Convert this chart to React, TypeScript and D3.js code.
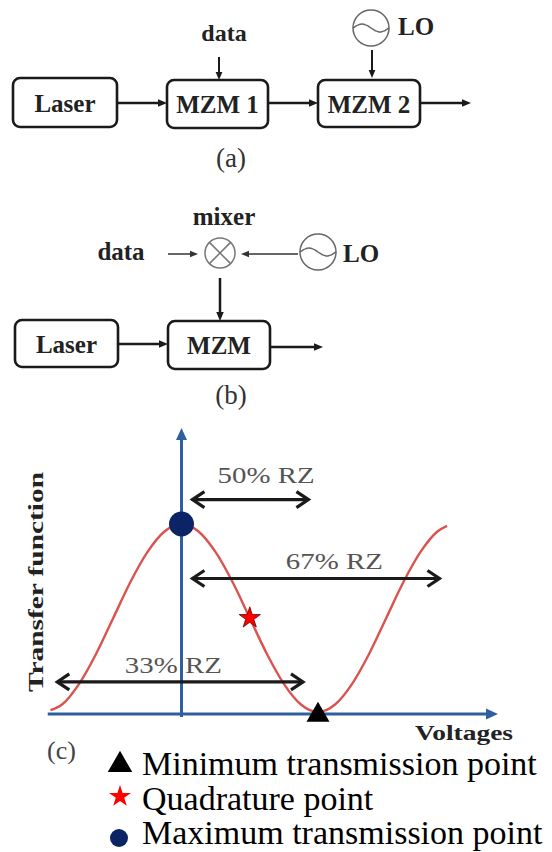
import React from 'react';
import * as d3 from 'd3';

const FONT = "'Liberation Serif', 'Times New Roman', serif";

// block chains of panels (a) and (b)
const CHAIN_A = ['Laser', 'MZM 1', 'MZM 2'];
const CHAIN_B = ['Laser', 'MZM'];

// panel (c): transfer function (voltage in Vpi units, normalised transmission)
const CURVE_V = [-0.96, -0.875, -0.75, -0.625, -0.5, -0.375, -0.25, -0.125, 0, 0.125, 0.25, 0.375, 0.5,
  0.625, 0.75, 0.875, 1, 1.125, 1.25, 1.375, 1.5, 1.625, 1.75, 1.875, 1.945];
const CURVE_T = [0.01, 0.04, 0.15, 0.31, 0.5, 0.69, 0.85, 0.96, 1, 0.96, 0.85, 0.69, 0.5,
  0.31, 0.15, 0.04, 0, 0.04, 0.15, 0.31, 0.5, 0.69, 0.85, 0.96, 0.99];

// RZ drive swings (double arrows)
const RZ_LABELS = ['50% RZ', '67% RZ', '33% RZ'];
const RZ_FROM = [0.08, 0.08, -0.91];
const RZ_TO = [0.93, 1.89, 0.89];
const RZ_LEVEL = [1.13, 0.71, 0.16];
const RZ_TEXT_V = [0.62, 1.12, -0.06];
const RZ_TEXT_T = [1.22, 0.76, 0.21];

// bias points
const BIAS_LABELS = ['Minimum transmission point', 'Quadrature point', 'Maximum transmission point'];
const BIAS_V = [1, 0.5, 0];
const BIAS_T = [0, 0.5, 1];

const INK = '#1a1a1a';
const AXIS = '#2f5f9e';
const CURVE = '#d9544f';
const NAVY = '#0b2466';

function Arrow({ x1, y1, x2, y2, w = 2.5, head = 9, color = INK }:
  { x1: number; y1: number; x2: number; y2: number; w?: number; head?: number; color?: string }) {
  const a = Math.atan2(y2 - y1, x2 - x1);
  const hw = head * 0.42;
  const bx = x2 - head * Math.cos(a), by = y2 - head * Math.sin(a);
  const pts = [
    [x2, y2],
    [bx + hw * Math.sin(a), by - hw * Math.cos(a)],
    [bx - hw * Math.sin(a), by + hw * Math.cos(a)],
  ].map(p => p.join(',')).join(' ');
  return (
    <g>
      <line x1={x1} y1={y1} x2={bx + Math.cos(a)} y2={by + Math.sin(a)} stroke={color} strokeWidth={w} />
      <polygon points={pts} fill={color} />
    </g>
  );
}

function Box({ x, y, w, h, label }: { x: number; y: number; w: number; h: number; label: string }) {
  return (
    <g>
      <rect x={x} y={y} width={w} height={h} rx={7} fill="#fff" stroke={INK} strokeWidth={2.6} />
      <text x={x + w / 2} y={y + h / 2 + 9} textAnchor="middle" fontFamily={FONT} fontWeight="bold" fontSize={25} fill="#222">{label}</text>
    </g>
  );
}

function Oscillator({ cx, cy, r }: { cx: number; cy: number; r: number }) {
  const wave = d3.line<number>()
    .x(t => cx + t * r)
    .y(t => cy - 0.22 * r * Math.sin(Math.PI * (t + 1)))
    .curve(d3.curveBasis)(d3.range(-1, 1.001, 0.1));
  return (
    <g fill="none" stroke="#666" strokeWidth={1.5}>
      <circle cx={cx} cy={cy} r={r} />
      <path d={wave || ''} />
    </g>
  );
}

function Mixer({ cx, cy, r }: { cx: number; cy: number; r: number }) {
  const d = r * Math.SQRT1_2;
  return (
    <g fill="none" stroke="#777" strokeWidth={1.5}>
      <circle cx={cx} cy={cy} r={r} />
      <line x1={cx - d} y1={cy - d} x2={cx + d} y2={cy + d} />
      <line x1={cx - d} y1={cy + d} x2={cx + d} y2={cy - d} />
    </g>
  );
}

function Chevron({ x, y, dir }: { x: number; y: number; dir: number }) {
  return (
    <polyline points={`${x - dir * 12},${y - 8} ${x},${y} ${x - dir * 12},${y + 8}`}
      fill="none" stroke={INK} strokeWidth={3.2} strokeLinejoin="miter" />
  );
}

function PanelA() {
  const boxes = [{ x: 13, y: 78, w: 104, h: 49 }, { x: 167, y: 80, w: 101, h: 48 }, { x: 318, y: 80, w: 102, h: 47 }];
  return (
    <g>
      {CHAIN_A.map((l, i) => <Box key={l} {...boxes[i]} label={l} />)}
      <Arrow x1={117} y1={103} x2={167} y2={103} />
      <Arrow x1={268} y1={103} x2={318} y2={103} />
      <Arrow x1={420} y1={103} x2={471} y2={103} />
      <text x={224} y={41} textAnchor="middle" fontWeight="bold" fontSize={24} fill="#222">data</text>
      <Arrow x1={219} y1={57} x2={219} y2={80} w={2} head={8} />
      <Oscillator cx={371} cy={28} r={18} />
      <text x={398} y={35} fontWeight="bold" fontSize={25} fill="#222">LO</text>
      <Arrow x1={372} y1={50} x2={372} y2={78} w={2} head={8} />
      <text x={231} y={167} textAnchor="middle" fontSize={27} fill="#333">(a)</text>
    </g>
  );
}

function PanelB() {
  const boxes = [{ x: 15, y: 320, w: 103, h: 47 }, { x: 168, y: 321, w: 102, h: 48 }];
  return (
    <g>
      {CHAIN_B.map((l, i) => <Box key={l} {...boxes[i]} label={l} />)}
      <Arrow x1={118} y1={344} x2={168} y2={344} />
      <Arrow x1={270} y1={347} x2={323} y2={347} />
      <text x={224} y={225} textAnchor="middle" fontWeight="bold" fontSize={25} fill="#222">mixer</text>
      <text x={121} y={260} textAnchor="middle" fontWeight="bold" fontSize={25} fill="#222">data</text>
      <Arrow x1={168} y1={254} x2={198} y2={254} w={1.5} head={8} color="#333" />
      <Mixer cx={220} cy={253} r={15} />
      <Arrow x1={298} y1={254} x2={241} y2={254} w={1.5} head={8} color="#333" />
      <Oscillator cx={318} cy={252} r={18} />
      <text x={343} y={262} fontWeight="bold" fontSize={25} fill="#222">LO</text>
      <Arrow x1={220} y1={278} x2={220} y2={321} w={2.5} head={9} />
      <text x={231} y={404} textAnchor="middle" fontSize={27} fill="#333">(b)</text>
    </g>
  );
}

function PanelC() {
  const x = d3.scaleLinear().domain([-1, 2]).range([45, 454.5]);
  const y = d3.scaleLinear().domain([0, 1]).range([712, 524]);
  const pts = CURVE_V.map((v, i) => [v, CURVE_T[i]] as [number, number]);
  const curve = d3.line<[number, number]>().x(d => x(d[0])).y(d => y(d[1])).curve(d3.curveMonotoneX)(pts) || '';
  const tri = d3.symbol(d3.symbolTriangle, 230)() || '';
  const star = d3.symbol(d3.symbolStar, 140)() || '';
  const x0 = x(0), yAxis = y(-0.01);
  return (
    <g>
      {/* axes */}
      <line x1={x(-0.98)} y1={yAxis} x2={488} y2={yAxis} stroke={AXIS} strokeWidth={3} />
      <polygon points={`498,${yAxis} 486,${yAxis - 5.5} 486,${yAxis + 5.5}`} fill={AXIS} />
      <line x1={x0} y1={717} x2={x0} y2={438} stroke={AXIS} strokeWidth={3} />
      <polygon points={`${x0},428 ${x0 - 5.5},440 ${x0 + 5.5},440`} fill={AXIS} />
      <path d={curve} fill="none" stroke={CURVE} strokeWidth={2.4} />
      {/* RZ swings */}
      {RZ_LABELS.map((l, i) => {
        const yy = y(RZ_LEVEL[i]);
        const xa = x(RZ_FROM[i]), xb = x(RZ_TO[i]);
        return (
          <g key={l}>
            <line x1={xa + 1} y1={yy} x2={xb - 1} y2={yy} stroke={INK} strokeWidth={3.2} />
            <Chevron x={xa} y={yy} dir={-1} />
            <Chevron x={xb} y={yy} dir={1} />
            <text x={x(RZ_TEXT_V[i])} y={y(RZ_TEXT_T[i])} textAnchor="middle" fontSize={24} fill="#555"
              textLength={97} lengthAdjust="spacingAndGlyphs">{l}</text>
          </g>
        );
      })}
      {/* bias points */}
      <path d={tri} transform={`translate(${x(BIAS_V[0])},${y(BIAS_T[0]) + 3})`} fill="#000" />
      <path d={star} transform={`translate(${x(BIAS_V[1])},${y(BIAS_T[1])})`} fill="#f00" stroke="#600" strokeWidth={0.8} />
      <circle cx={x(BIAS_V[2])} cy={y(BIAS_T[2])} r={12.5} fill={NAVY} />
      {/* axis titles */}
      <text transform="translate(43,582) rotate(-90)" textAnchor="middle" fontWeight="bold" fontSize={22} fill="#222"
        textLength={220} lengthAdjust="spacingAndGlyphs">Transfer function</text>
      <text x={415} y={740} fontWeight="bold" fontSize={20} fill="#222" textLength={98} lengthAdjust="spacingAndGlyphs">Voltages</text>
      <text x={47} y={759} fontSize={26} fill="#444">(c)</text>
      {/* legend */}
      {BIAS_LABELS.map((l, i) => {
        const ly = 775 + i * 34.5;
        return (
          <g key={l}>
            {i === 0 && <path d={d3.symbol(d3.symbolTriangle, 260)() || ''} transform={`translate(120,${ly - 10})`} fill="#000" />}
            {i === 1 && <path d={d3.symbol(d3.symbolStar, 150)() || ''} transform={`translate(120,${ly - 13})`} fill="#f00" />}
            {i === 2 && <circle cx={119} cy={ly - 6} r={9} fill={NAVY} />}
            <text x={142} y={ly} fontSize={34} fill="#000">{l}</text>
          </g>
        );
      })}
    </g>
  );
}

export default function App() {
  return (
    <div style={{ position: 'absolute', left: 0, top: 0, width: 552, height: 852, background: '#fff' }}>
      <svg width={552} height={852} fontFamily={FONT} style={{ display: 'block' }}>
        <rect width={552} height={852} fill="#fff" />
        <PanelA />
        <PanelB />
        <PanelC />
      </svg>
    </div>
  );
}
